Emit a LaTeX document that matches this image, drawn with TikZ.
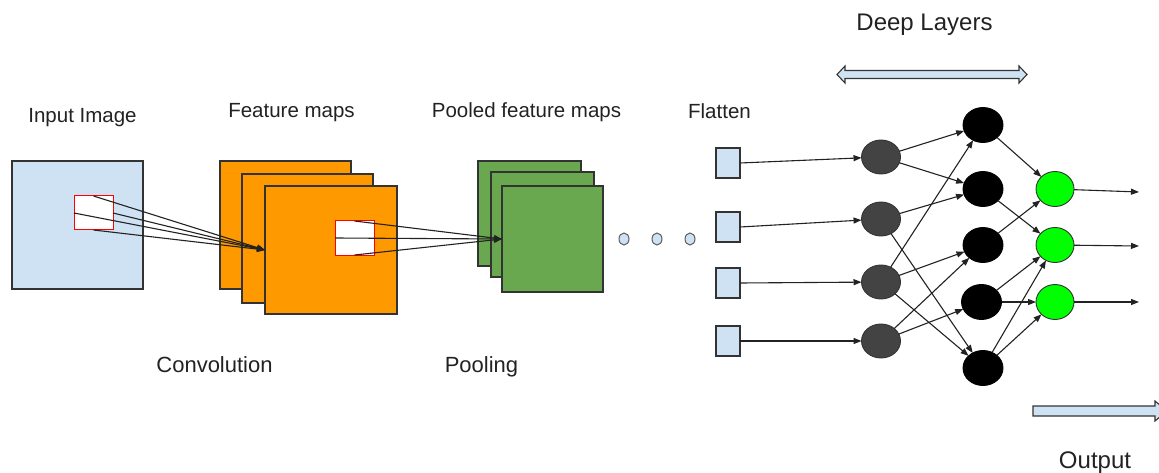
\documentclass[tikz,border=0pt]{standalone}
\usepackage{fontspec}
\setmainfont{Liberation Sans}
\usetikzlibrary{arrows.meta,shapes.geometric}
\definecolor{lblue}{HTML}{CFE2F3}
\definecolor{orng}{HTML}{FF9900}
\definecolor{gsq}{HTML}{6AA84F}
\definecolor{dgray}{HTML}{434343}
\definecolor{edge}{HTML}{333333}
\definecolor{lgreen}{HTML}{00FF00}
\definecolor{txt}{HTML}{222222}
\tikzset{
  sq/.style={draw=edge, line width=1.2pt, inner sep=0pt, outer sep=0pt},
  redbox/.style={draw=red, fill=white, line width=1pt, inner sep=0pt, outer sep=0pt, minimum width=39, minimum height=34},
  flat/.style={draw=edge, fill=lblue, line width=1.1pt, inner sep=0pt, outer sep=0pt, minimum width=24, minimum height=30},
  neuron/.style={ellipse, draw=edge, line width=0.9pt, inner sep=0pt, outer sep=0pt, minimum width=39, minimum height=34},
  dotnode/.style={ellipse, draw=edge!80, fill=lblue, line width=1pt, inner sep=0pt, minimum width=10, minimum height=12},
  conn/.style={draw=txt, line width=1.1pt, -{Triangle[length=8pt,width=6pt]}},
  lbl/.style={anchor=base, text=txt, inner sep=0pt, font=\fontsize{20.5}{24}\selectfont},
  lblb/.style={anchor=base, text=txt, inner sep=0pt, font=\fontsize{22}{26}\selectfont},
  lblc/.style={anchor=base, text=txt, inner sep=0pt, font=\fontsize{24}{28}\selectfont},
  bigarrow/.style={draw=edge, fill=lblue, line width=1.1pt, line join=miter},
}
\begin{document}
\begin{tikzpicture}[x=1pt,y=-1pt]
\path[use as bounding box] (0,0) rectangle (1159,473);
\clip (0,0) rectangle (1159,473);

% input image
\node[sq, fill=lblue, minimum width=131, minimum height=128] (inp) at (77.5,225) {};
\node[redbox] (rb1) at (93.5,213) {};

% feature maps
\node[sq, fill=orng, minimum width=131, minimum height=128] (fm1) at (285.5,225) {};
\node[sq, fill=orng, minimum width=131, minimum height=129] (fm2) at (307.5,238.5) {};
\node[sq, fill=orng, minimum width=132, minimum height=128] (fm3) at (331,250) {};
\node[redbox] (rb2) at (354.5,238) {};

% pooled feature maps
\node[sq, fill=gsq, minimum width=103, minimum height=105] (gs1) at (529.5,213.5) {};
\node[sq, fill=gsq, minimum width=103, minimum height=105] (gs2) at (542.5,224.5) {};
\node[sq, fill=gsq, minimum width=101, minimum height=106] (gs3) at (552.5,239) {};

% dots
\node[dotnode] (d1) at (624,239) {};
\node[dotnode] (d2) at (657,239) {};
\node[dotnode] (d3) at (690,239) {};

% flatten
\node[flat] (f1) at (728,163) {};
\node[flat] (f2) at (728,227) {};
\node[flat] (f3) at (728,283) {};
\node[flat] (f4) at (728,341) {};

% hidden layer 1
\node[neuron, fill=dgray] (g1) at (881,157) {};
\node[neuron, fill=dgray] (g2) at (881,219) {};
\node[neuron, fill=dgray] (g3) at (881,282) {};
\node[neuron, fill=dgray] (g4) at (881,341) {};

% hidden layer 2
\node[neuron, fill=black, draw=black, minimum width=40, minimum height=35] (b1) at (983,125) {};
\node[neuron, fill=black, draw=black, minimum width=40, minimum height=35] (b2) at (983,189) {};
\node[neuron, fill=black, draw=black, minimum width=40, minimum height=35] (b3) at (983,245) {};
\node[neuron, fill=black, draw=black, minimum width=40, minimum height=35] (b4) at (981.5,302) {};
\node[neuron, fill=black, draw=black, minimum width=40, minimum height=35] (b5) at (983,368) {};

% output layer
\node[neuron, fill=lgreen, minimum width=38, minimum height=35] (o1) at (1055,189) {};
\node[neuron, fill=lgreen, minimum width=38, minimum height=35] (o2) at (1055,245) {};
\node[neuron, fill=lgreen, minimum width=38, minimum height=35] (o3) at (1055,302) {};

\coordinate (e1) at (1139,192);
\coordinate (e2) at (1139,246);
\coordinate (e3) at (1139,302);

% convolution arrows
\draw[conn] (rb1.north) -- (fm3.west);
\draw[conn] (rb1.west) -- (fm3.west);
\draw[conn] (rb1.east) -- (fm3.west);
\draw[conn] (rb1.south) -- (fm3.west);

% pooling arrows
\draw[conn] (rb2.north) -- (gs3.west);
\draw[conn] (rb2.west) -- (gs3.west);
\draw[conn] (rb2.south) -- (gs3.west);

% flatten to layer 1
\draw[conn] (f1.east) -- (g1);
\draw[conn] (f2.east) -- (g2);
\draw[conn] (f3.east) -- (g3);
\draw[conn] (f4.east) -- (g4);

% layer 1 to layer 2
\draw[conn] (g1) -- (b1);
\draw[conn] (g1) -- (b2);
\draw[conn] (g2) -- (b2);
\draw[conn] (g2) -- (b5);
\draw[conn] (g3) -- (b1);
\draw[conn] (g3) -- (b3);
\draw[conn] (g3) -- (b5);
\draw[conn] (g4) -- (b3);
\draw[conn] (g4) -- (b4);

% layer 2 to output
\draw[conn] (b1) -- (o1);
\draw[conn] (b2) -- (o2);
\draw[conn] (b3) -- (o1);
\draw[conn] (b4) -- (o2);
\draw[conn] (b4) -- (o3);
\draw[conn] (b5) -- (o2);
\draw[conn] (b5) -- (o3);

% outputs
\draw[conn] (o1) -- (e1);
\draw[conn] (o2) -- (e2);
\draw[conn] (o3) -- (e3);

% deep layers double arrow
\draw[bigarrow] (837,74.5) -- (845,66) -- (845,70.5) -- (1019,70.5) -- (1019,66) -- (1027,74.5)
  -- (1019,83) -- (1019,78.5) -- (845,78.5) -- (845,83) -- cycle;

% output arrow
\draw[bigarrow] (1033,406) -- (1155,406) -- (1155,401) -- (1167,411) -- (1155,421) -- (1155,416) -- (1033,416) -- cycle;

% labels
\node[lbl] (tinp) at (82.5,123) {Input Image};
\node[lbl] (tfm) at (291.5,118) {Feature maps};
\node[lbl] (tpf) at (526.5,118) {Pooled feature maps};
\node[lbl] (tfl) at (719.5,119) {Flatten};
\node[lblc] (tdl) at (924.5,31) {Deep Layers};
\node[lblb] (tcv) at (214.5,372) {Convolution};
\node[lblb] (tpl) at (481.5,372) {Pooling};
\node[lblc] (tout) at (1095,468) {Output};
\end{tikzpicture}
\end{document}
